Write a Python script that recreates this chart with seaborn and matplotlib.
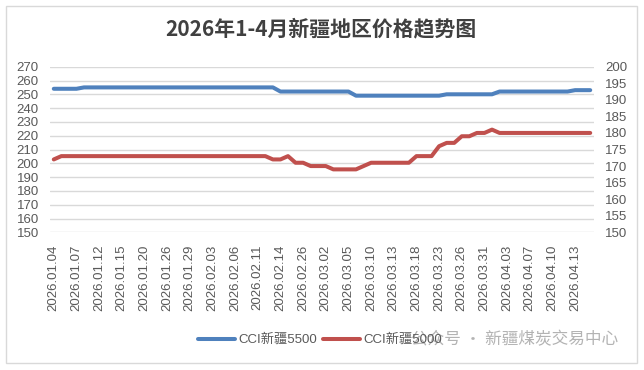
import numpy as np
import pandas as pd
import matplotlib
matplotlib.use("Agg")
import matplotlib.pyplot as plt
from matplotlib.patches import Rectangle
from matplotlib.lines import Line2D
import seaborn as sns

sns.set_theme(style="white")
plt.rcParams['font.family'] = ['Liberation Sans', 'Noto Sans CJK SC', 'DejaVu Sans']

title = "2026年1-4月新疆地区价格趋势图"
series_names = ["CCI新疆5500", "CCI新疆5000"]

tick_labels = ["2026.01.04", "2026.01.07", "2026.01.12", "2026.01.15", "2026.01.20",
               "2026.01.26", "2026.01.29", "2026.02.03", "2026.02.06", "2026.02.11",
               "2026.02.14", "2026.02.26", "2026.03.02", "2026.03.05", "2026.03.10",
               "2026.03.13", "2026.03.18", "2026.03.23", "2026.03.26", "2026.03.31",
               "2026.04.03", "2026.04.07", "2026.04.10", "2026.04.13"]

cci5500 = [254, 254, 254, 254,
           255, 255, 255, 255, 255, 255, 255, 255, 255, 255, 255, 255, 255,
           255, 255, 255, 255, 255, 255, 255, 255, 255, 255, 255, 255, 255,
           252, 252, 252, 252, 252, 252, 252, 252, 252, 252,
           249, 249, 249, 249, 249, 249, 249, 249, 249, 249, 249, 249,
           250, 250, 250, 250, 250, 250, 250,
           252, 252, 252, 252, 252, 252, 252, 252, 252, 252,
           253, 253, 253]

cci5000 = [172,
           173, 173, 173, 173, 173, 173, 173, 173, 173, 173, 173, 173, 173, 173,
           173, 173, 173, 173, 173, 173, 173, 173, 173, 173, 173, 173, 173, 173,
           172, 172,
           173,
           171, 171,
           170, 170, 170,
           169, 169, 169, 169,
           170,
           171, 171, 171, 171, 171, 171,
           173, 173, 173,
           176,
           177, 177,
           179, 179,
           180, 180,
           181,
           180, 180, 180, 180, 180, 180, 180, 180, 180, 180, 180, 180, 180]

left_ticks = list(range(150, 271, 10))
right_ticks = list(range(150, 201, 5))

blue = "#4F81BD"
red = "#C0504D"
grid_c = "#D9D9D9"
text_c = "#595959"

n = len(cci5500)
df = pd.DataFrame({"idx": np.arange(n), "v5500": cci5500, "v5000": cci5000})

fig = plt.figure(figsize=(6.44, 3.70), dpi=100)
ax = fig.add_axes([50/644, 1-232.3/370, 544/644, 165.6/370])
ax2 = ax.twinx()

sns.lineplot(data=df, x="idx", y="v5500", ax=ax, color=blue, linewidth=2.9,
             solid_capstyle="round", legend=False)
sns.lineplot(data=df, x="idx", y="v5000", ax=ax2, color=red, linewidth=2.9,
             solid_capstyle="round", legend=False)

ax.set_xlim(-0.5, n - 0.5)
ax.set_ylim(150, 270)
ax2.set_ylim(150, 200)
ax.set_yticks(left_ticks)
ax2.set_yticks(right_ticks)
ax.set_xticks(np.arange(0, 3*len(tick_labels), 3))
ax.set_xticklabels(tick_labels, rotation=90, fontsize=9.5, color=text_c)
ax.tick_params(axis='y', labelsize=9.5, labelcolor=text_c, length=0, pad=8)
ax2.tick_params(axis='y', labelsize=9.5, labelcolor=text_c, length=0, pad=8)
ax.tick_params(axis='x', length=0, pad=9)
ax.set_xlabel("")
ax.set_ylabel("")
ax2.set_ylabel("")
ax.yaxis.grid(True, color=grid_c, linewidth=1)
ax.set_axisbelow(True)
for a in (ax, ax2):
    for s in a.spines.values():
        s.set_visible(False)
ax.patch.set_alpha(0)

fig.text(0.498, 1-29/370, title, ha="center", va="center", fontsize=15,
         fontweight="bold", color="#404040",
         family=['Noto Sans CJK SC', 'DejaVu Sans'])

handles = [Line2D([0], [0], color=blue, linewidth=2.9),
           Line2D([0], [0], color=red, linewidth=2.9)]
fig.legend(handles, series_names, loc="center", bbox_to_anchor=(320/644, 1-340/370),
           ncol=2, frameon=False, fontsize=9.5, handlelength=2.8, columnspacing=0.4,
           handletextpad=0.3, labelcolor=text_c)

fig.text(618/644, 1-340/370, "公众号 · 新疆煤炭交易中心", ha="right", va="center",
         fontsize=12, color="#9a9a9a", alpha=0.75,
         family=['Noto Sans CJK SC', 'DejaVu Sans'])

fig.patches.append(Rectangle((6/644, 1-363/370), 631/644, 357/370,
                             transform=fig.transFigure, fill=False,
                             edgecolor=grid_c, linewidth=1))

fig.savefig("out.png", dpi=100)
